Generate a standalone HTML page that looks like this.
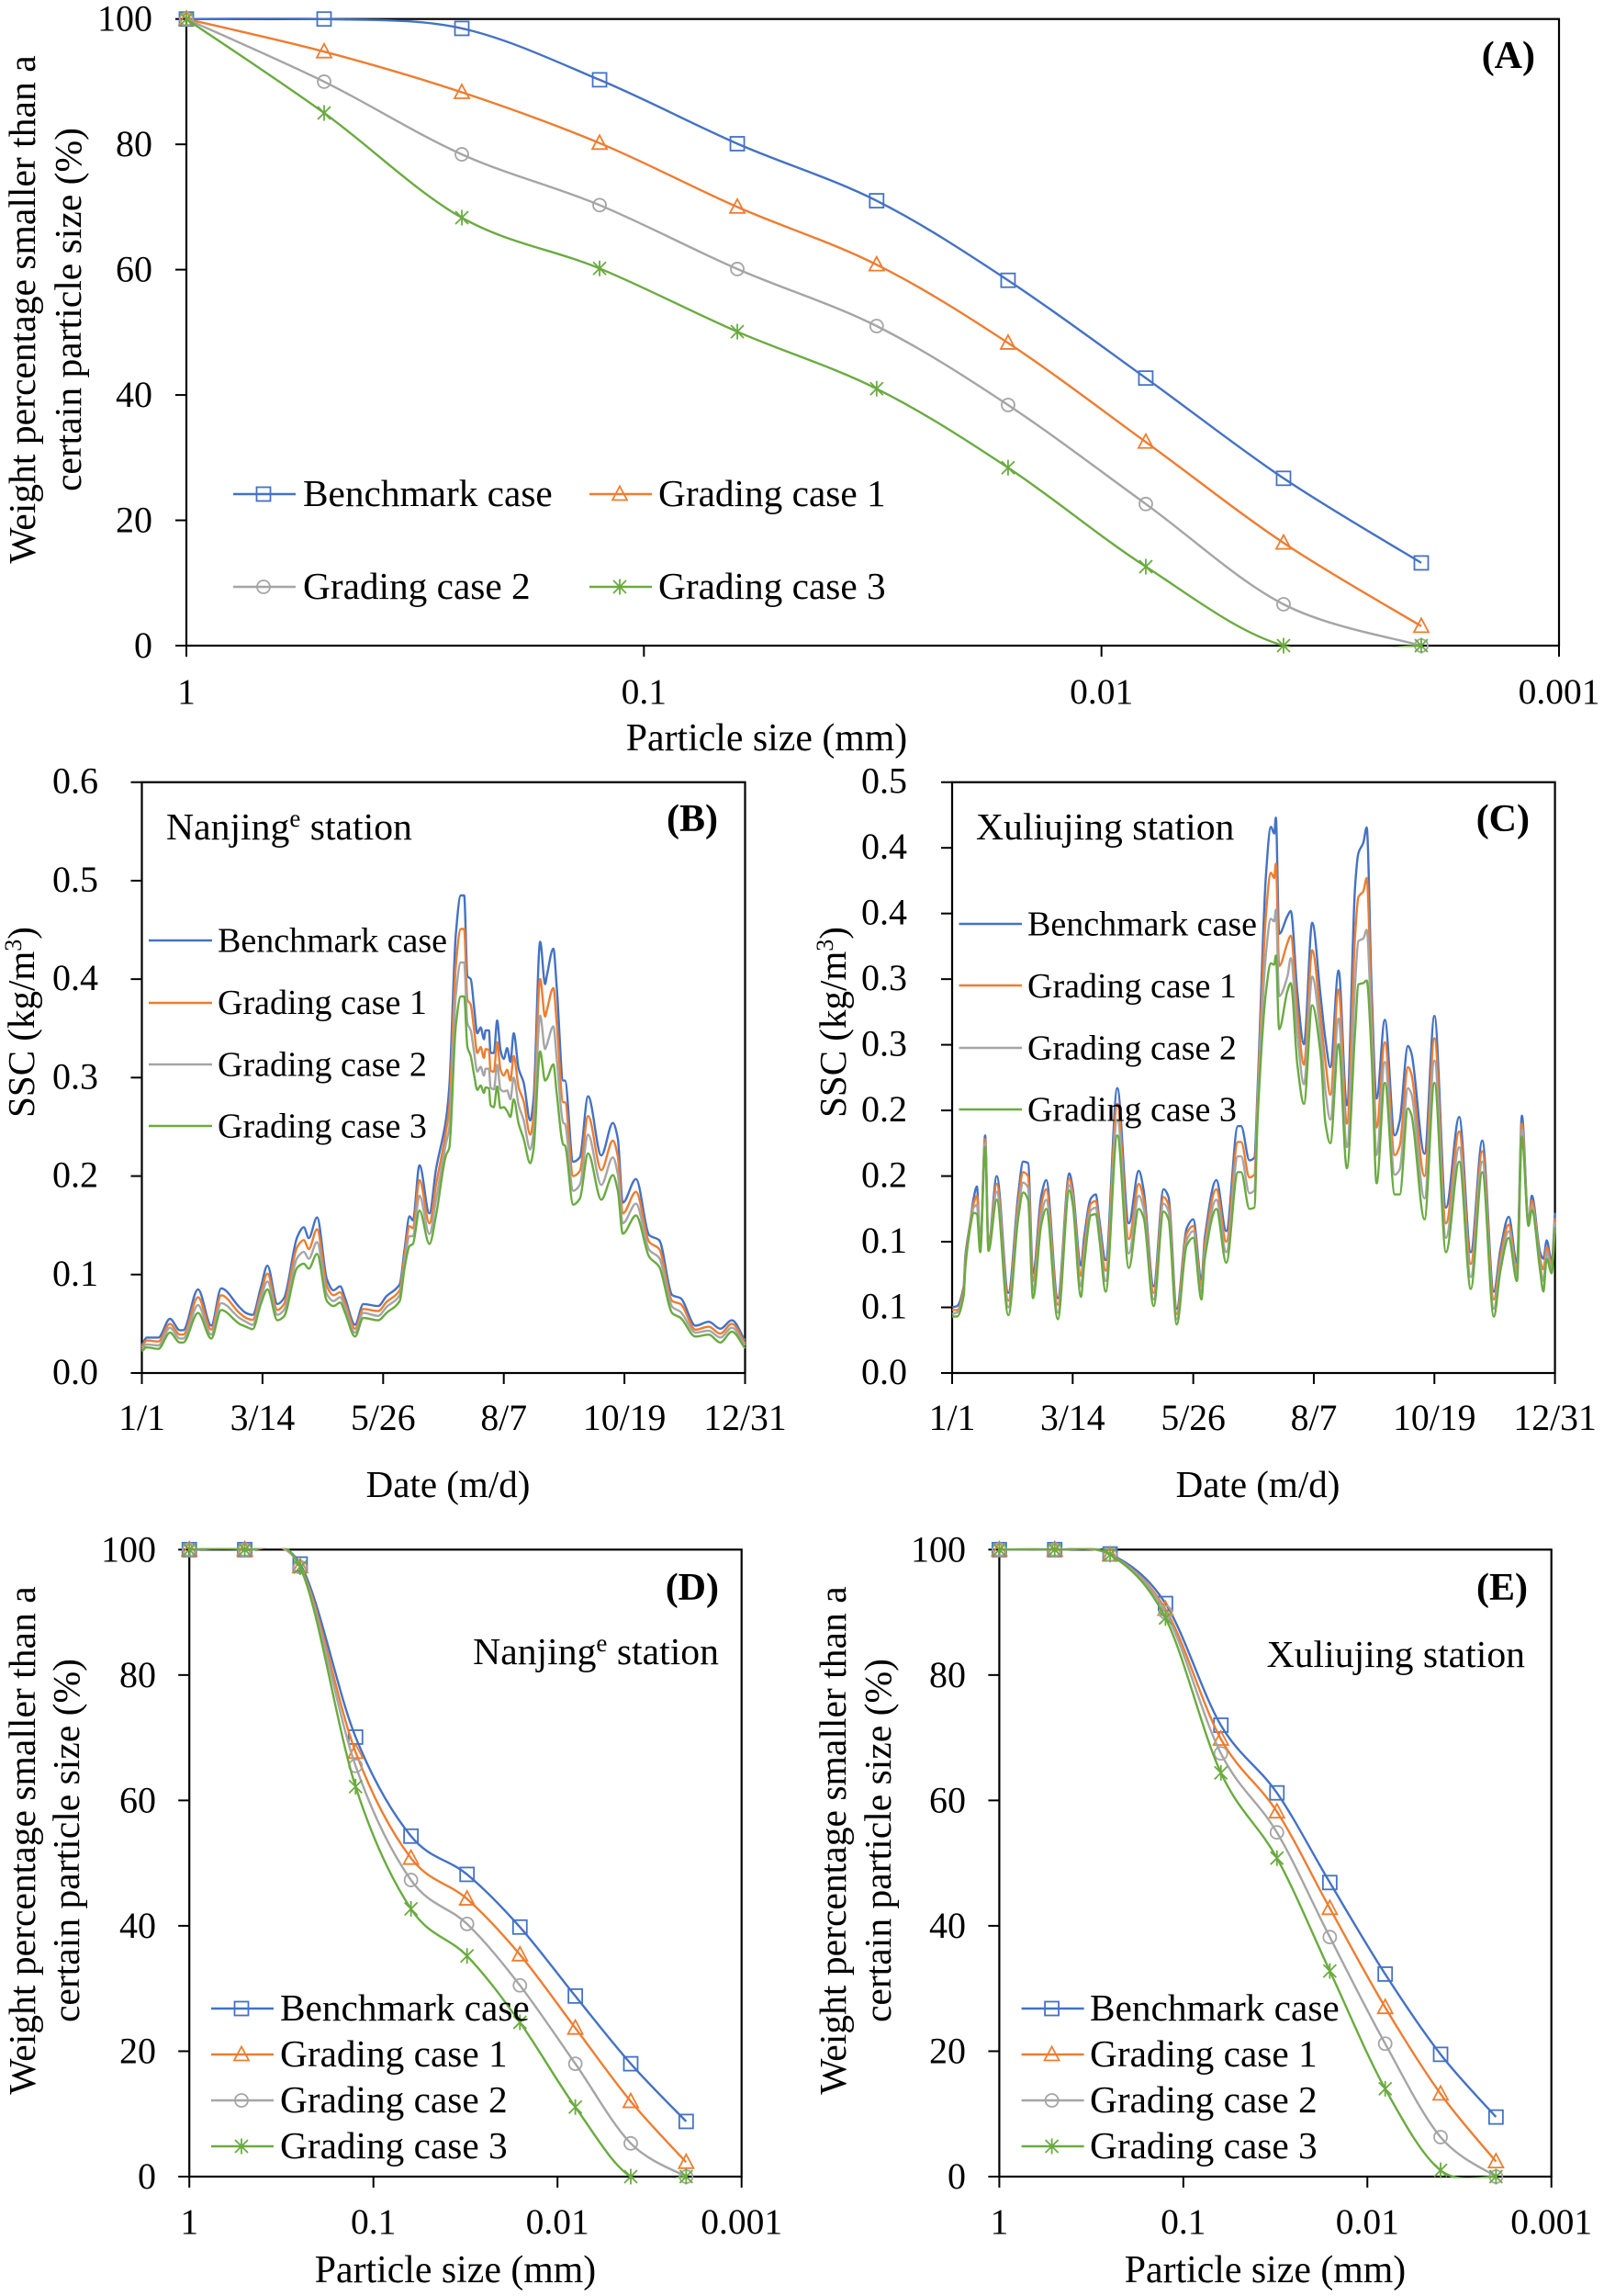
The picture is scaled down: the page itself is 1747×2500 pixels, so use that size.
<!DOCTYPE html>
<html lang="en">
<head>
<meta charset="utf-8">
<title>Particle size grading and SSC charts</title>
<style>
html,body{margin:0;padding:0;background:#fff;}
svg{display:block;}
text{font-family:"Liberation Serif",serif;fill:#000;}
</style>
</head>
<body>
<svg id="figure" xmlns="http://www.w3.org/2000/svg" width="1747" height="2500" viewBox="0 0 1747 2500">
<rect width="1747" height="2500" fill="#fff"/>
<g id="layer-charts"></g>

<g font-size="41.3">
<text transform="translate(38 337) rotate(-90)" text-anchor="middle" font-size="41.6">Weight percentage smaller than a</text>
<text transform="translate(88 337) rotate(-90)" text-anchor="middle" font-size="41.6">certain particle size (%)</text>
<text x="835" y="817" text-anchor="middle" font-size="41.8">Particle size (mm)</text>
<text x="1672" y="74" text-anchor="end" font-weight="bold" font-size="42">(A)</text>
<text x="330" y="551">Benchmark case</text>
<text x="717" y="551">Grading case 1</text>
<text x="330" y="652">Grading case 2</text>
<text x="717" y="652">Grading case 3</text>
</g>

<g font-size="38">
<text transform="translate(37 1113) rotate(-90)" text-anchor="middle" font-size="41">SSC (kg/m<tspan dy="-14" font-size="26">3</tspan><tspan dy="14">)</tspan></text>
<text x="488" y="1630" text-anchor="middle" font-size="41">Date (m/d)</text>
<text x="782" y="905" text-anchor="end" font-weight="bold" font-size="42">(B)</text>
<text x="181" y="914" font-size="41.7">Nanjing<tspan dy="-14" font-size="27">e</tspan><tspan dy="14"> station</tspan></text>
<text x="237" y="1036.5">Benchmark case</text>
<text x="237" y="1104">Grading case 1</text>
<text x="237" y="1171.5">Grading case 2</text>
<text x="237" y="1238.5">Grading case 3</text>
</g>

<g font-size="38">
<text transform="translate(921 1113) rotate(-90)" text-anchor="middle" font-size="41">SSC (kg/m<tspan dy="-14" font-size="26">3</tspan><tspan dy="14">)</tspan></text>
<text x="1370" y="1630" text-anchor="middle" font-size="41">Date (m/d)</text>
<text x="1666" y="905" text-anchor="end" font-weight="bold" font-size="42">(C)</text>
<text x="1063" y="914" font-size="41.7">Xuliujing station</text>
<text x="1119" y="1018.5">Benchmark case</text>
<text x="1119" y="1086">Grading case 1</text>
<text x="1119" y="1153.5">Grading case 2</text>
<text x="1119" y="1220.5">Grading case 3</text>
</g>

<g font-size="41.3">
<text transform="translate(38 2004) rotate(-90)" text-anchor="middle" font-size="41.6">Weight percentage smaller than a</text>
<text transform="translate(86 2004) rotate(-90)" text-anchor="middle" font-size="41.6">certain particle size (%)</text>
<text x="496" y="2485" text-anchor="middle" font-size="41.8">Particle size (mm)</text>
<text x="783" y="1742" text-anchor="end" font-weight="bold" font-size="42">(D)</text>
<text x="783" y="1812" text-anchor="end" font-size="41.7">Nanjing<tspan dy="-14" font-size="27">e</tspan><tspan dy="14"> station</tspan></text>
<text x="305" y="2200">Benchmark case</text>
<text x="305" y="2250">Grading case 1</text>
<text x="305" y="2300">Grading case 2</text>
<text x="305" y="2350">Grading case 3</text>
</g>

<g font-size="41.3">
<text transform="translate(921 2004) rotate(-90)" text-anchor="middle" font-size="41.6">Weight percentage smaller than a</text>
<text transform="translate(970 2004) rotate(-90)" text-anchor="middle" font-size="41.6">certain particle size (%)</text>
<text x="1378" y="2485" text-anchor="middle" font-size="41.8">Particle size (mm)</text>
<text x="1664" y="1742" text-anchor="end" font-weight="bold" font-size="42">(E)</text>
<text x="1661" y="1815" text-anchor="end" font-size="41.7">Xuliujing station</text>
<text x="1187" y="2200">Benchmark case</text>
<text x="1187" y="2250">Grading case 1</text>
<text x="1187" y="2300">Grading case 2</text>
<text x="1187" y="2350">Grading case 3</text>
</g>
</svg>

<script>
/* ---------- shared categories and tick labels ---------- */
const particleSizes = [1, 0.5, 0.25, 0.125, 0.0625, 0.031, 0.016, 0.008, 0.004, 0.002];
const sizeTicks = [1, 0.1, 0.01, 0.001];
const sizeTickLabels = ["1", "0.1", "0.01", "0.001"];
const percentTicks = [0, 20, 40, 60, 80, 100];
const percentTickLabels = ["0", "20", "40", "60", "80", "100"];
const dateTicks = [0, 73, 146, 219, 292, 365];
const dateTickLabels = ["1/1", "3/14", "5/26", "8/7", "10/19", "12/31"];
const sscTicksB = [0, 0.1, 0.2, 0.3, 0.4, 0.5, 0.6];
const sscTickLabelsB = ["0.0", "0.1", "0.2", "0.3", "0.4", "0.5", "0.6"];
const sscTicksC = [0, 0.05, 0.1, 0.15, 0.2, 0.25, 0.3, 0.35, 0.4, 0.45];
const sscTickLabelsC = ["0.0", "0.1", "0.1", "0.2", "0.2", "0.3", "0.3", "0.4", "0.4", "0.5"];
const seriesNames = ["benchmark", "grading-1", "grading-2", "grading-3"];

/* ---------- panel A ---------- */
const benchA = [100, 100, 98.5, 90.3, 80.1, 71, 58.3, 42.7, 26.7, 13.2];
const grade1A = [100, 94.8, 88.3, 80.2, 70, 60.8, 48.3, 32.5, 16.4, 3.1];
const grade2A = [100, 90, 78.4, 70.3, 60.1, 51, 38.4, 22.6, 6.6, 0];
const grade3A = [100, 85, 68.3, 60.2, 50.1, 41, 28.4, 12.6, 0, 0];

/* ---------- panel D ---------- */
const benchD = [100, 100, 97.7, 70.1, 54.3, 48.2, 39.8, 28.8, 18, 8.8];
const grade1D = [100, 100, 97.3, 67.7, 50.8, 44.3, 35.4, 23.7, 12, 2.3];
const grade2D = [100, 100, 97.2, 65.5, 47.3, 40.3, 30.5, 18, 5.3, 0];
const grade3D = [100, 100, 97.2, 62.2, 42.7, 35.2, 24.6, 11.1, 0, 0];

/* ---------- panel E ---------- */
const benchE = [100, 100, 99.3, 91.4, 72, 61.2, 46.9, 32.3, 19.5, 9.5];
const grade1E = [100, 100, 99.2, 90.5, 69.8, 58.2, 42.8, 27, 13.2, 2.4];
const grade2E = [100, 100, 99.2, 90, 67.5, 54.9, 38.2, 21.2, 6.3, 0];
const grade3E = [100, 100, 99.2, 89.1, 64.4, 50.8, 32.8, 14, 1, 0];

/* ---------- panel B: Nanjing SSC ---------- */
const daysB = [0,3,10,17,23,25,34,42,48,59,63,67,72,76,82,86,94,98,101,106,112,116,120,123,129,134,143,148,156,159,162,164,168,174,178,184,186,190,193,195,197,199,201,203,205,207,208,210,211,213,215,217,219,221,223,225,228,231,235,237,241,244,245,249,251,255,256,261,265,270,278,285,288,291,299,307,313,321,326,335,343,350,357,365];
const benchB = [.028,.036,.036,.055,.0435,.0435,.085,.048,.086,.067,.061,.059,.087,.109,.07,.076,.138,.148,.137,.158,.095,.084,.088,.076,.049,.07,.068,.078,.09,.126,.159,.155,.211,.162,.207,.257,.29,.446,.485,.485,.403,.4,.372,.345,.351,.339,.348,.348,.325,.325,.358,.328,.319,.33,.316,.345,.309,.295,.2565,.278,.438,.395,.403,.431,.393,.297,.297,.2145,.219,.281,.221,.254,.238,.173,.197,.14,.135,.079,.076,.048,.052,.045,.0535,.033];
const grade1B = [.026,.033,.032,.05,.039,.039,.077,.044,.079,.061,.056,.054,.081,.101,.064,.07,.128,.135,.126,.146,.088,.079,.082,.071,.045,.065,.063,.072,.084,.12,.149,.147,.196,.152,.191,.245,.27,.414,.451,.451,.379,.374,.349,.325,.331,.32,.329,.328,.307,.306,.336,.308,.302,.308,.297,.322,.29,.276,.242,.261,.4,.362,.368,.391,.356,.275,.275,.2,.205,.261,.206,.236,.22,.162,.184,.133,.126,.073,.07,.044,.047,.04,.05,.03];
const grade2B = [.024,.029,.028,.046,.035,.035,.069,.039,.071,.056,.052,.049,.076,.093,.059,.064,.117,.123,.116,.133,.08,.073,.077,.066,.041,.061,.058,.067,.079,.113,.139,.139,.18,.141,.176,.233,.249,.384,.417,.417,.355,.348,.326,.306,.311,.302,.309,.309,.29,.288,.313,.288,.286,.287,.278,.3,.272,.257,.227,.244,.363,.329,.333,.352,.32,.254,.253,.185,.191,.242,.191,.219,.202,.152,.172,.125,.117,.067,.062,.041,.043,.036,.046,.028];
const grade3B = [.022,.026,.0245,.041,.031,.031,.061,.035,.064,.05,.047,.0445,.07,.085,.0535,.0575,.107,.111,.106,.121,.073,.068,.0715,.061,.037,.056,.0535,.061,.073,.107,.129,.131,.165,.131,.16,.221,.2285,.353,.3825,.3825,.331,.322,.303,.2875,.292,.2845,.29,.289,.272,.27,.291,.269,.27,.266,.26,.278,.253,.238,.213,.227,.3265,.297,.2985,.3135,.2845,.232,.231,.171,.177,.223,.176,.201,.185,.1415,.16,.118,.108,.0606,.056,.037,.039,.031,.042,.025];

/* ---------- panel C: Xuliujing SSC ---------- */
const daysC = [0,3,7,8,11,13,15,17,20,22,27,34,40,43,46,49,54,57,64,71,73,78,80,84,87,89,93,100,107,113,116,122,128,131,136,142,146,151,153,160,166,173,175,180,183,185,190,193,195,196,198,203,205,209,213,218,223,226,229,234,239,244,246,249,251,254,257,262,268,271,276,278,286,292,299,307,314,321,328,332,337,342,345,349,351,356,358,360,363,365];
const benchC = [.05,.051,.066,.089,.115,.133,.142,.097,.181,.098,.15,.061,.136,.161,.16,.076,.135,.147,.057,.152,.141,.082,.104,.133,.136,.118,.086,.217,.114,.154,.139,.066,.14,.134,.049,.11,.117,.071,.103,.147,.108,.188,.188,.162,.164,.218,.379,.416,.411,.423,.3345,.348,.352,.29,.2505,.343,.288,.254,.233,.3065,.204,.3705,.396,.404,.4155,.2925,.209,.269,.181,.192,.249,.244,.167,.272,.126,.195,.092,.177,.062,.094,.119,.084,.196,.114,.135,.092,.087,.101,.085,.122];
const grade1C = [.048,.048,.064,.086,.114,.129,.135,.095,.178,.096,.144,.055,.13,.153,.15,.07,.128,.14,.052,.148,.137,.074,.097,.129,.131,.113,.078,.205,.102,.144,.132,.061,.134,.128,.045,.106,.112,.066,.098,.14,.1,.176,.176,.149,.151,.21,.349,.381,.377,.388,.31,.3275,.333,.275,.235,.322,.272,.237,.212,.292,.19,.333,.3625,.367,.377,.275,.187,.252,.166,.173,.233,.228,.15,.255,.114,.184,.083,.169,.056,.089,.113,.079,.19,.113,.131,.087,.079,.096,.082,.118];
const grade2C = [.045,.046,.061,.083,.112,.126,.128,.094,.175,.095,.138,.05,.124,.145,.141,.063,.12,.132,.046,.143,.133,.066,.09,.124,.126,.109,.07,.193,.091,.135,.125,.056,.129,.123,.041,.101,.108,.061,.092,.132,.092,.165,.165,.137,.139,.203,.319,.346,.344,.353,.287,.302,.316,.258,.22,.302,.258,.215,.193,.27,.172,.296,.329,.331,.3375,.258,.166,.237,.151,.155,.217,.213,.133,.238,.103,.172,.073,.161,.049,.083,.108,.075,.185,.113,.127,.083,.07,.092,.079,.115];
const grade3C = [.043,.043,.059,.08,.111,.122,.121,.092,.172,.093,.132,.044,.118,.1375,.132,.057,.113,.125,.041,.139,.129,.058,.083,.12,.121,.104,.062,.181,.08,.125,.118,.051,.123,.117,.037,.097,.103,.056,.087,.125,.084,.153,.153,.125,.126,.195,.29,.312,.311,.318,.262,.291,.297,.235,.205,.28,.2436,.19,.175,.2505,.156,.26,.296,.297,.299,.241,.1445,.221,.136,.136,.2016,.197,.117,.221,.092,.161,.064,.153,.043,.078,.103,.07,.18,.112,.124,.078,.062,.087,.076,.111];

/* ---------- drawing helpers ---------- */
const NS = "http://www.w3.org/2000/svg";
const root = document.getElementById("layer-charts");
const COLORS = {"benchmark":"#4472C4","grading-1":"#ED7D31","grading-2":"#A5A5A5","grading-3":"#6AAB40"};
const MARKERS = {"benchmark":"square","grading-1":"triangle","grading-2":"circle","grading-3":"star"};

function shape(parent, tag, name, geom){
  const el = document.createElementNS(NS, tag);
  
  
  for (const k in geom) el.setAttribute(k, geom[k]);
  parent.appendChild(el);
  return el;
}
function group(parent, name){
  return shape(parent, 'g', name, {});
}
function label(parent, name, str, x, y, anchor, size){
  const el = shape(parent, 'text', name, {x:x, y:y, 'text-anchor':anchor, 'font-size':size});
  el.textContent = str;
  return el;
}
function plotClip(parent, id, box){
  const clip = shape(parent, 'clipPath', id+'-plot-clip', {id:id+'-clip'});
  shape(clip, 'rect', id+'-plot-clip-area', {x:box.L-2, y:box.T-1.5, width:box.R-box.L+4, height:box.B-box.T+3});
  return 'url(#'+id+'-clip)';
}
function marker(parent, name, kind, x, y, color){
  const base = {fill:'none', stroke:color, 'stroke-width':1.8};
  if (kind === 'square') {
    shape(parent, 'rect', name, Object.assign({x:x-7.5, y:y-7.5, width:15, height:15}, base));
  } else if (kind === 'triangle') {
    shape(parent, 'path', name, Object.assign({d:`M${x} ${y-8.5}L${x+8} ${y+6.5}L${x-8} ${y+6.5}Z`}, base));
  } else if (kind === 'circle') {
    shape(parent, 'circle', name, Object.assign({cx:x, cy:y, r:7}, base));
  } else {
    shape(parent, 'path', name, Object.assign({d:`M${x} ${y-8.5}V${y+8.5}M${x-7} ${y-7}L${x+7} ${y+7}M${x+7} ${y-7}L${x-7} ${y+7}`}, base));
  }
}
function smoothPath(pts){
  let d = `M${pts[0][0].toFixed(1)} ${pts[0][1].toFixed(1)}`;
  for (let i = 0; i < pts.length - 1; i++) {
    const p0 = pts[Math.max(i-1,0)], p1 = pts[i], p2 = pts[i+1], p3 = pts[Math.min(i+2,pts.length-1)];
    const c1x = p1[0] + (p2[0]-p0[0])/6, c1y = p1[1] + (p2[1]-p0[1])/6;
    const c2x = p2[0] - (p3[0]-p1[0])/6, c2y = p2[1] - (p3[1]-p1[1])/6;
    d += `C${c1x.toFixed(1)} ${c1y.toFixed(1)} ${c2x.toFixed(1)} ${c2y.toFixed(1)} ${p2[0].toFixed(1)} ${p2[1].toFixed(1)}`;
  }
  return d;
}
/* monotone curve: round crests and troughs without overshooting the read values */
function monotonePath(pts){
  const n = pts.length, sec = [], tan = [];
  for (let i = 0; i < n - 1; i++) sec.push((pts[i+1][1]-pts[i][1]) / (pts[i+1][0]-pts[i][0]));
  tan.push(sec[0]);
  for (let i = 1; i < n - 1; i++) {
    tan.push(sec[i-1]*sec[i] <= 0 ? 0 : 2*sec[i-1]*sec[i]/(sec[i-1]+sec[i]));
  }
  tan.push(sec[n-2]);
  let d = `M${pts[0][0].toFixed(1)} ${pts[0][1].toFixed(1)}`;
  for (let i = 0; i < n - 1; i++) {
    const h = (pts[i+1][0]-pts[i][0]) / 3;
    d += `C${(pts[i][0]+h).toFixed(1)} ${(pts[i][1]+tan[i]*h).toFixed(1)} ${(pts[i+1][0]-h).toFixed(1)} ${(pts[i+1][1]-tan[i+1]*h).toFixed(1)} ${pts[i+1][0].toFixed(1)} ${pts[i+1][1].toFixed(1)}`;
  }
  return d;
}
function frame(g, id, L, T, R, B){
  shape(g, 'rect', id+'-plot-frame', {x:L, y:T, width:R-L, height:B-T, fill:'none', stroke:'#000', 'stroke-width':2.2});
}
function yAxis(g, id, L, scale, ticks, labels, labelX, size, offset){
  ticks.forEach((t, i) => {
    const y = scale(t);
    shape(g, 'line', id+'-y-tick', {x1:L-12, x2:L, y1:y, y2:y, stroke:'#000', 'stroke-width':2});
    label(g, id+'-y-tick-label', labels[i], labelX, y+offset, 'end', size);
  });
}
function xAxis(g, id, B, scale, ticks, labels, baseY, size){
  ticks.forEach((t, i) => {
    const x = scale(t);
    shape(g, 'line', id+'-x-tick', {x1:x, x2:x, y1:B, y2:B+12, stroke:'#000', 'stroke-width':2});
    label(g, id+'-x-tick-label', labels[i], x, baseY, 'middle', size);
  });
}

/* ---------- grain-size panels ---------- */
function gradingPanel(id, box, sets, tickCfg, legend){
  const g = group(root, id);
  const sx = v => box.L + (0 - Math.log10(v)) / 3 * (box.R - box.L);
  const sy = v => box.B - v / 100 * (box.B - box.T);
  const clipUrl = plotClip(g, id, box);
  frame(g, id, box.L, box.T, box.R, box.B);
  yAxis(g, id, box.L, sy, percentTicks, percentTickLabels, tickCfg.yLabelX, 40, 13);
  xAxis(g, id, box.B, sx, sizeTicks, sizeTickLabels, tickCfg.xLabelY, 39.5);
  sets.forEach((vals, s) => {
    const key = seriesNames[s];
    const sg = group(g, id+'-series-'+key);
    const pts = vals.map((v, i) => [sx(particleSizes[i]), sy(v)]);
    shape(sg, 'path', id+'-line-'+key, {d:smoothPath(pts), fill:'none', stroke:COLORS[key], 'stroke-width':2.4, 'clip-path':clipUrl});
    pts.forEach(p => marker(sg, id+'-point-'+key, MARKERS[key], p[0], p[1], COLORS[key]));
  });
  seriesNames.forEach((key, s) => {
    const k = legend[s];
    shape(g, 'line', id+'-legend-line-'+key, {x1:k.x1, x2:k.x2, y1:k.y, y2:k.y, stroke:COLORS[key], 'stroke-width':2.4});
    marker(g, id+'-legend-marker-'+key, MARKERS[key], (k.x1+k.x2)/2 - 1, k.y, COLORS[key]);
  });
}

/* ---------- SSC panels ---------- */
function sscPanel(id, box, days, sets, ticks, tickLabels, yMax, yLabelX, legend){
  const g = group(root, id);
  const sx = d => box.L + d / 365 * (box.R - box.L);
  const sy = v => box.B - v / yMax * (box.B - box.T);
  frame(g, id, box.L, box.T, box.R, box.B);
  yAxis(g, id, box.L, sy, ticks, tickLabels, yLabelX, 40, 12);
  xAxis(g, id, box.B, sx, dateTicks, dateTickLabels, 1557, 39.7);
  sets.forEach((vals, s) => {
    const key = seriesNames[s];
    const pts = vals.map((v, i) => [sx(days[i]), sy(v)]);
    shape(g, 'path', id+'-line-'+key, {d:monotonePath(pts), fill:'none', stroke:COLORS[key], 'stroke-width':2.4, 'stroke-linejoin':'round'});
  });
  seriesNames.forEach((key, s) => {
    shape(g, 'line', id+'-legend-line-'+key, {x1:legend.x1, x2:legend.x2, y1:legend.ys[s], y2:legend.ys[s], stroke:COLORS[key], 'stroke-width':2.4});
  });
}

gradingPanel('panel-a', {L:203, R:1698, T:20.7, B:703},
  [benchA, grade1A, grade2A, grade3A],
  {yLabelX:166, xLabelY:766},
  [{x1:254,x2:322,y:538},{x1:642,x2:710,y:538},{x1:254,x2:322,y:639},{x1:642,x2:710,y:639}]);

sscPanel('panel-b', {L:154.5, R:811.5, T:851.7, B:1495},
  daysB, [benchB, grade1B, grade2B, grade3B], sscTicksB, sscTickLabelsB, 0.6, 107,
  {x1:162, x2:231, ys:[1024,1092,1159,1226]});

sscPanel('panel-c', {L:1037, R:1693.6, T:851.7, B:1495},
  daysC, [benchC, grade1C, grade2C, grade3C], sscTicksC, sscTickLabelsC, 0.45, 988,
  {x1:1044.5, x2:1113, ys:[1006,1073,1141,1208]});

gradingPanel('panel-d', {L:206.2, R:807.7, T:1687.3, B:2370},
  [benchD, grade1D, grade2D, grade3D],
  {yLabelX:170, xLabelY:2432},
  [{x1:230,x2:298,y:2187},{x1:230,x2:298,y:2237},{x1:230,x2:298,y:2287},{x1:230,x2:298,y:2337}]);

gradingPanel('panel-e', {L:1088.4, R:1689.7, T:1687.3, B:2370},
  [benchE, grade1E, grade2E, grade3E],
  {yLabelX:1052, xLabelY:2432},
  [{x1:1112.6,x2:1180.6,y:2187},{x1:1112.6,x2:1180.6,y:2237},{x1:1112.6,x2:1180.6,y:2287},{x1:1112.6,x2:1180.6,y:2337}]);
</script>
</body>
</html>
